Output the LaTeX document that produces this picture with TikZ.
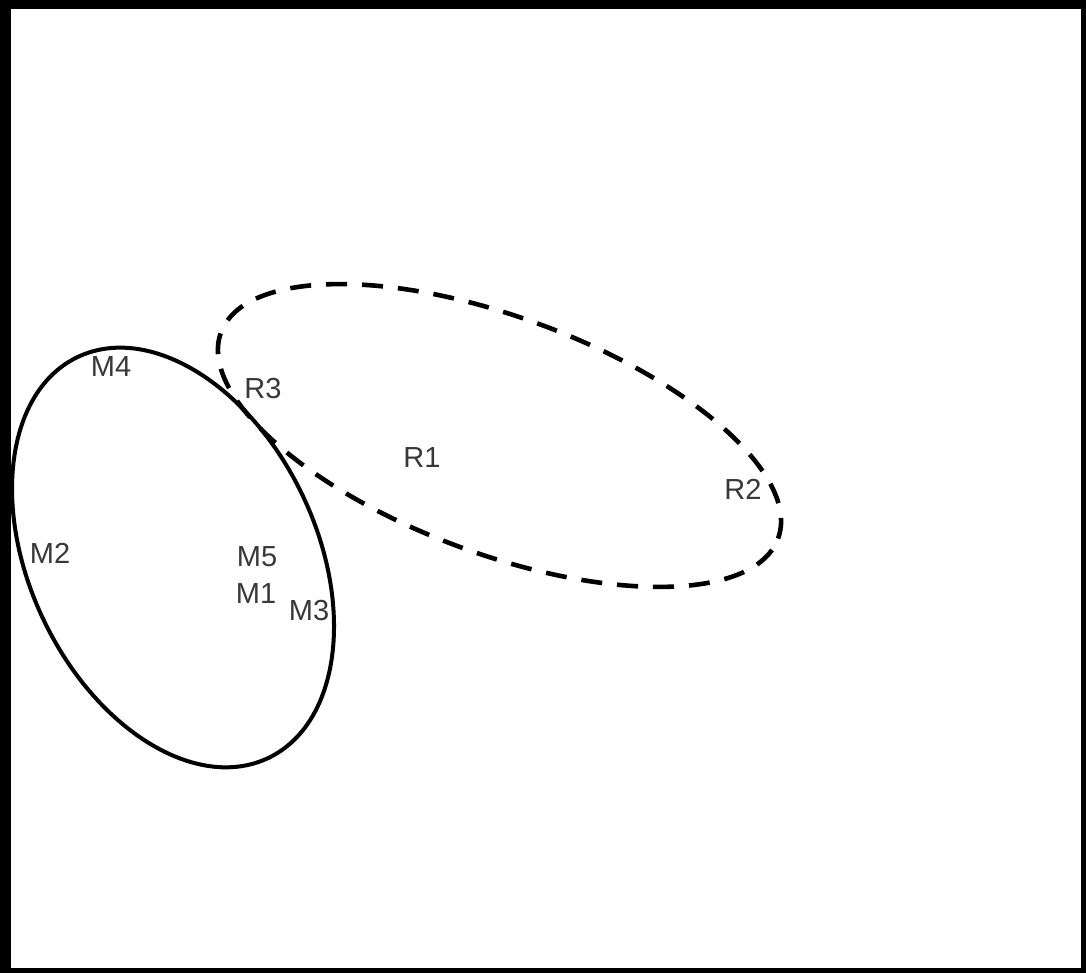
\documentclass[tikz,border=0pt]{standalone}
\usepackage{fontspec}
\setmainfont{Liberation Sans}
\begin{document}
\begin{tikzpicture}[x=1pt,y=-1pt,
  lbl/.style={text=black!78, inner sep=0pt, font=\fontsize{29}{34}\selectfont},
  cluster/.style={line width=4pt},
  regionset/.style={line width=4.6pt, dash pattern=on 21pt off 15pt}]
  % frame
  \fill[black] (0,0) rectangle (1086,973);
  \fill[white] (11,9) rectangle (1081,968);
  \useasboundingbox (0,0) rectangle (1086,973);

  % groups
  \coordinate (mc) at (173,557.5);
  \coordinate (rc) at (499.5,435.5);
  \draw[cluster, rotate around={-64.6:(mc)}] (mc) ellipse [x radius=222pt, y radius=143.7pt];
  \draw[regionset, rotate around={-20.3:(rc)}] (rc) ellipse [x radius=297pt, y radius=118.3pt];

  % labels
  \node[lbl] (M4) at (111,367) {M4};
  \node[lbl] (R3) at (263,389) {R3};
  \node[lbl] (M2) at (50,553) {M2};
  \node[lbl] (M5) at (257,557) {M5};
  \node[lbl] (M1) at (256,594) {M1};
  \node[lbl] (M3) at (309,611) {M3};
  \node[lbl] (R1) at (422,458) {R1};
  \node[lbl] (R2) at (743,489) {R2};
\end{tikzpicture}
\end{document}
